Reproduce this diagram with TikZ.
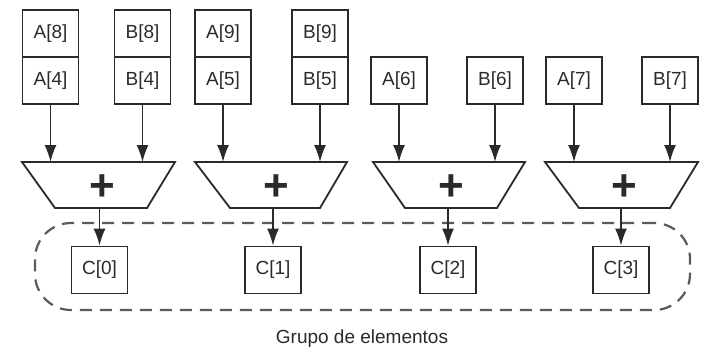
\documentclass[tikz,border=0pt]{standalone}
\usepackage{fontspec}
\setmainfont{Liberation Sans}
\usetikzlibrary{arrows.meta}
\definecolor{ink}{HTML}{2A2A2A}
\definecolor{dashc}{HTML}{5A5A5A}
\begin{document}
\begin{tikzpicture}[x=1pt,y=-1pt,
  box/.style={draw=ink, line width=1.8pt, minimum width=56pt, minimum height=47pt, inner sep=0pt, text=ink, font=\fontsize{19}{19}\selectfont},
  arr/.style={draw=ink, line width=1.6pt, -{Latex[length=17pt,width=12pt]}},
  adder/.style={draw=ink, line width=1.8pt, line join=miter},
  plus/.style={font=\fontsize{44}{44}\selectfont\bfseries, text=ink, inner sep=0pt},
  group/.style={draw=dashc, line width=2.2pt, dash pattern=on 12pt off 8pt, rounded corners=36pt, minimum width=655pt, minimum height=87pt, inner sep=0pt},
  lbl/.style={text=ink, font=\fontsize{19}{19}\selectfont, inner sep=0pt}]
\useasboundingbox (0,0) rectangle (706,351);

% input boxes
\node[box] (a8) at (50.5,33.5) {A[8]};
\node[box] (a4) at (50.5,80.5) {A[4]};
\node[box] (b8) at (142.5,33.5) {B[8]};
\node[box] (b4) at (142.5,80.5) {B[4]};
\node[box] (a9) at (223,33.5) {A[9]};
\node[box] (a5) at (223,80.5) {A[5]};
\node[box] (b9) at (320,33.5) {B[9]};
\node[box] (b5) at (320,80.5) {B[5]};
\node[box] (a6) at (399,80.5) {A[6]};
\node[box] (b6) at (495,80.5) {B[6]};
\node[box] (a7) at (574,80.5) {A[7]};
\node[box] (b7) at (670,80.5) {B[7]};

% adders
\draw[adder] (22,162) -- (175,162) -- (147,208) -- (55,208) -- cycle;
\draw[adder] (195,162) -- (347,162) -- (320,208) -- (230,208) -- cycle;
\draw[adder] (373,162) -- (525,162) -- (497,208) -- (405,208) -- cycle;
\draw[adder] (545,162) -- (698,162) -- (670,208) -- (579,208) -- cycle;
\node[plus] (p0) at (102,188) {+};
\node[plus] (p1) at (276,188) {+};
\node[plus] (p2) at (451,188) {+};
\node[plus] (p3) at (624,188) {+};

\coordinate (i0a) at (50.5,162);  \coordinate (i0b) at (142.5,162);
\coordinate (i1a) at (223,162);   \coordinate (i1b) at (320,162);
\coordinate (i2a) at (399,162);   \coordinate (i2b) at (495,162);
\coordinate (i3a) at (574,162);   \coordinate (i3b) at (670,162);
\coordinate (o0) at (99.5,208);
\coordinate (o1) at (273,208);
\coordinate (o2) at (448,208);
\coordinate (o3) at (621,208);

% group
\node[group] (grp) at (362.5,266.5) {};

% outputs
\node[box] (c0) at (99.5,270) {C[0]};
\node[box] (c1) at (273,270) {C[1]};
\node[box] (c2) at (448,270) {C[2]};
\node[box] (c3) at (621,270) {C[3]};

% arrows
\draw[arr] (a4) -- (i0a);
\draw[arr] (b4) -- (i0b);
\draw[arr] (a5) -- (i1a);
\draw[arr] (b5) -- (i1b);
\draw[arr] (a6) -- (i2a);
\draw[arr] (b6) -- (i2b);
\draw[arr] (a7) -- (i3a);
\draw[arr] (b7) -- (i3b);
\draw[arr] (o0) -- (c0);
\draw[arr] (o1) -- (c1);
\draw[arr] (o2) -- (c2);
\draw[arr] (o3) -- (c3);

\node[lbl] (gl) at (362,339) {Grupo de elementos};
\end{tikzpicture}
\end{document}
